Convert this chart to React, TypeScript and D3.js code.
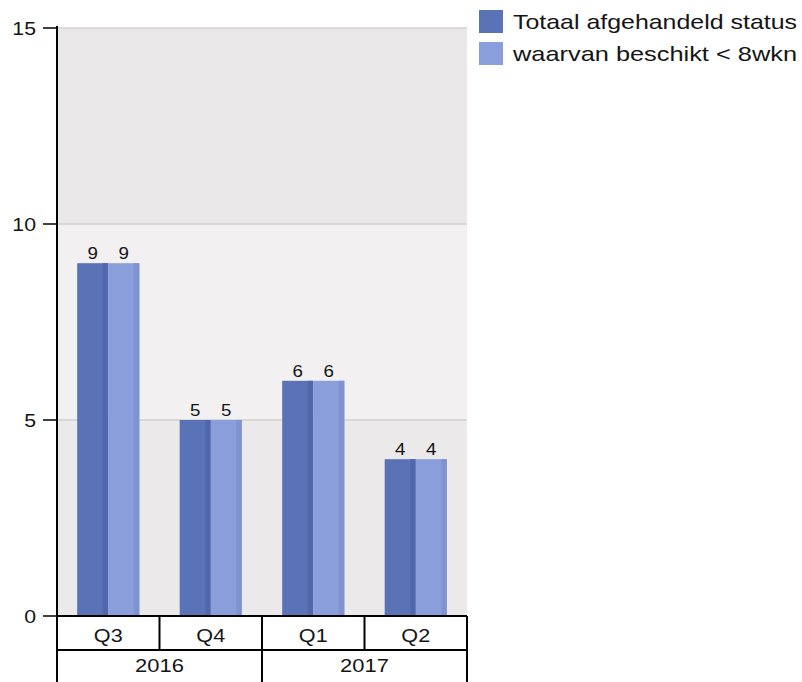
import React from "react";
import * as d3 from "d3";

const quarters = ["Q3", "Q4", "Q1", "Q2"];
const years = ["2016", "2017"];
const yearSpan = [2, 2];
const seriesNames = ["Totaal afgehandeld status", "waarvan beschikt < 8wkn"];
const totaal = [9, 5, 6, 4];
const beschikt = [9, 5, 6, 4];
const yTicks = [0, 5, 10, 15];
const colors = ["#5a72b6", "#8a9edb"];
const shade = ["#5068ab", "#7f93d0"];

const font = "Arial, 'Liberation Sans', sans-serif";

function T({ x, y, size, sx, anchor, children, len }: any) {
  return (
    <text
      transform={`translate(${x},${y}) scale(${sx},1)`}
      textAnchor={anchor || "start"}
      fontSize={size}
      fill="#151515"
      fontFamily={font}
      textLength={len}
      lengthAdjust={len ? "spacingAndGlyphs" : undefined}
    >
      {children}
    </text>
  );
}

export default function App() {
  const W = 802, H = 682;
  const left = 57, right = 467, top = 28, bottom = 616;
  const y = d3.scaleLinear().domain([0, 15]).range([bottom, top]);
  const x = d3.scaleBand().domain(quarters).range([left, right]).paddingInner(0).paddingOuter(0);
  const sub = d3.scaleBand().domain(["a", "b"]).range([0, x.bandwidth()]).paddingOuter(0.65).paddingInner(0);
  const series = [totaal, beschikt];
  const bands = [
    { a: 0, b: 5, c: "#ebe9ea" },
    { a: 5, b: 10, c: "#f3f0f2" },
    { a: 10, b: 15, c: "#ebe8ea" },
  ];
  const row1 = 650;
  let yearStart = 0;
  return (
    <svg width={W} height={H} style={{ position: "absolute", left: 0, top: 0 }} fontFamily={font}>
      <rect width={W} height={H} fill="#fff" />
      {bands.map((b, i) => (
        <rect key={i} x={left} y={y(b.b)} width={right - left} height={y(b.a) - y(b.b)} fill={b.c} />
      ))}
      {yTicks.filter((t) => t > 0).map((t) => (
        <line key={t} x1={left} x2={right} y1={y(t)} y2={y(t)} stroke="#d2d0d2" strokeWidth={1.5} />
      ))}
      {series.map((vals, si) =>
        quarters.map((q, i) => {
          const bx = (x(q) as number) + (sub(si === 0 ? "a" : "b") as number);
          const bw = sub.bandwidth();
          const by = y(vals[i]);
          const bh = y(0) - by;
          return (
            <g key={si + "-" + q}>
              <rect x={bx} y={by} width={bw} height={bh} fill={colors[si]} />
              <rect x={bx + bw * 0.82} y={by} width={bw * 0.18} height={bh} fill={shade[si]} />
              <T x={bx + bw / 2} y={by - 4} size={17} sx={1.1} anchor="middle">
                {vals[i]}
              </T>
            </g>
          );
        })
      )}
      <line x1={left} x2={left} y1={top - 2} y2={H} stroke="#000" strokeWidth={2} />
      {yTicks.map((t) => (
        <g key={t}>
          <line x1={43} x2={left} y1={y(t)} y2={y(t)} stroke="#000" strokeWidth={1.5} />
          <T x={36} y={y(t) + 6.5} size={19} sx={1.12} anchor="end">
            {t}
          </T>
        </g>
      ))}
      <line x1={left} x2={right} y1={bottom} y2={bottom} stroke="#000" strokeWidth={2} />
      <line x1={left} x2={right} y1={row1} y2={row1} stroke="#000" strokeWidth={2} />
      <line x1={right} x2={right} y1={bottom} y2={H} stroke="#000" strokeWidth={2} />
      {quarters.map((q, i) => (
        <g key={q}>
          {i > 0 && (
            <line x1={x(q)} x2={x(q)} y1={bottom} y2={i % 2 === 0 ? H : row1} stroke="#000" strokeWidth={2} />
          )}
          <T x={(x(q) as number) + x.bandwidth() / 2} y={642} size={18} sx={1.2} anchor="middle">
            {q}
          </T>
        </g>
      ))}
      {years.map((yr, i) => {
        const s = yearStart;
        yearStart += yearSpan[i];
        const x0 = x(quarters[s]) as number;
        const x1 = (x(quarters[s + yearSpan[i] - 1]) as number) + x.bandwidth();
        return (
          <T key={yr} x={(x0 + x1) / 2} y={672} size={18} sx={1.22} anchor="middle">
            {yr}
          </T>
        );
      })}
      {seriesNames.map((n, i) => (
        <g key={n}>
          <rect x={479} y={10 + i * 32} width={24} height={23} fill={colors[i]} />
          <T x={513} y={29 + i * 32} size={21} sx={1} len={i === 0 ? 284 : 284}>
            {n}
          </T>
        </g>
      ))}
    </svg>
  );
}
